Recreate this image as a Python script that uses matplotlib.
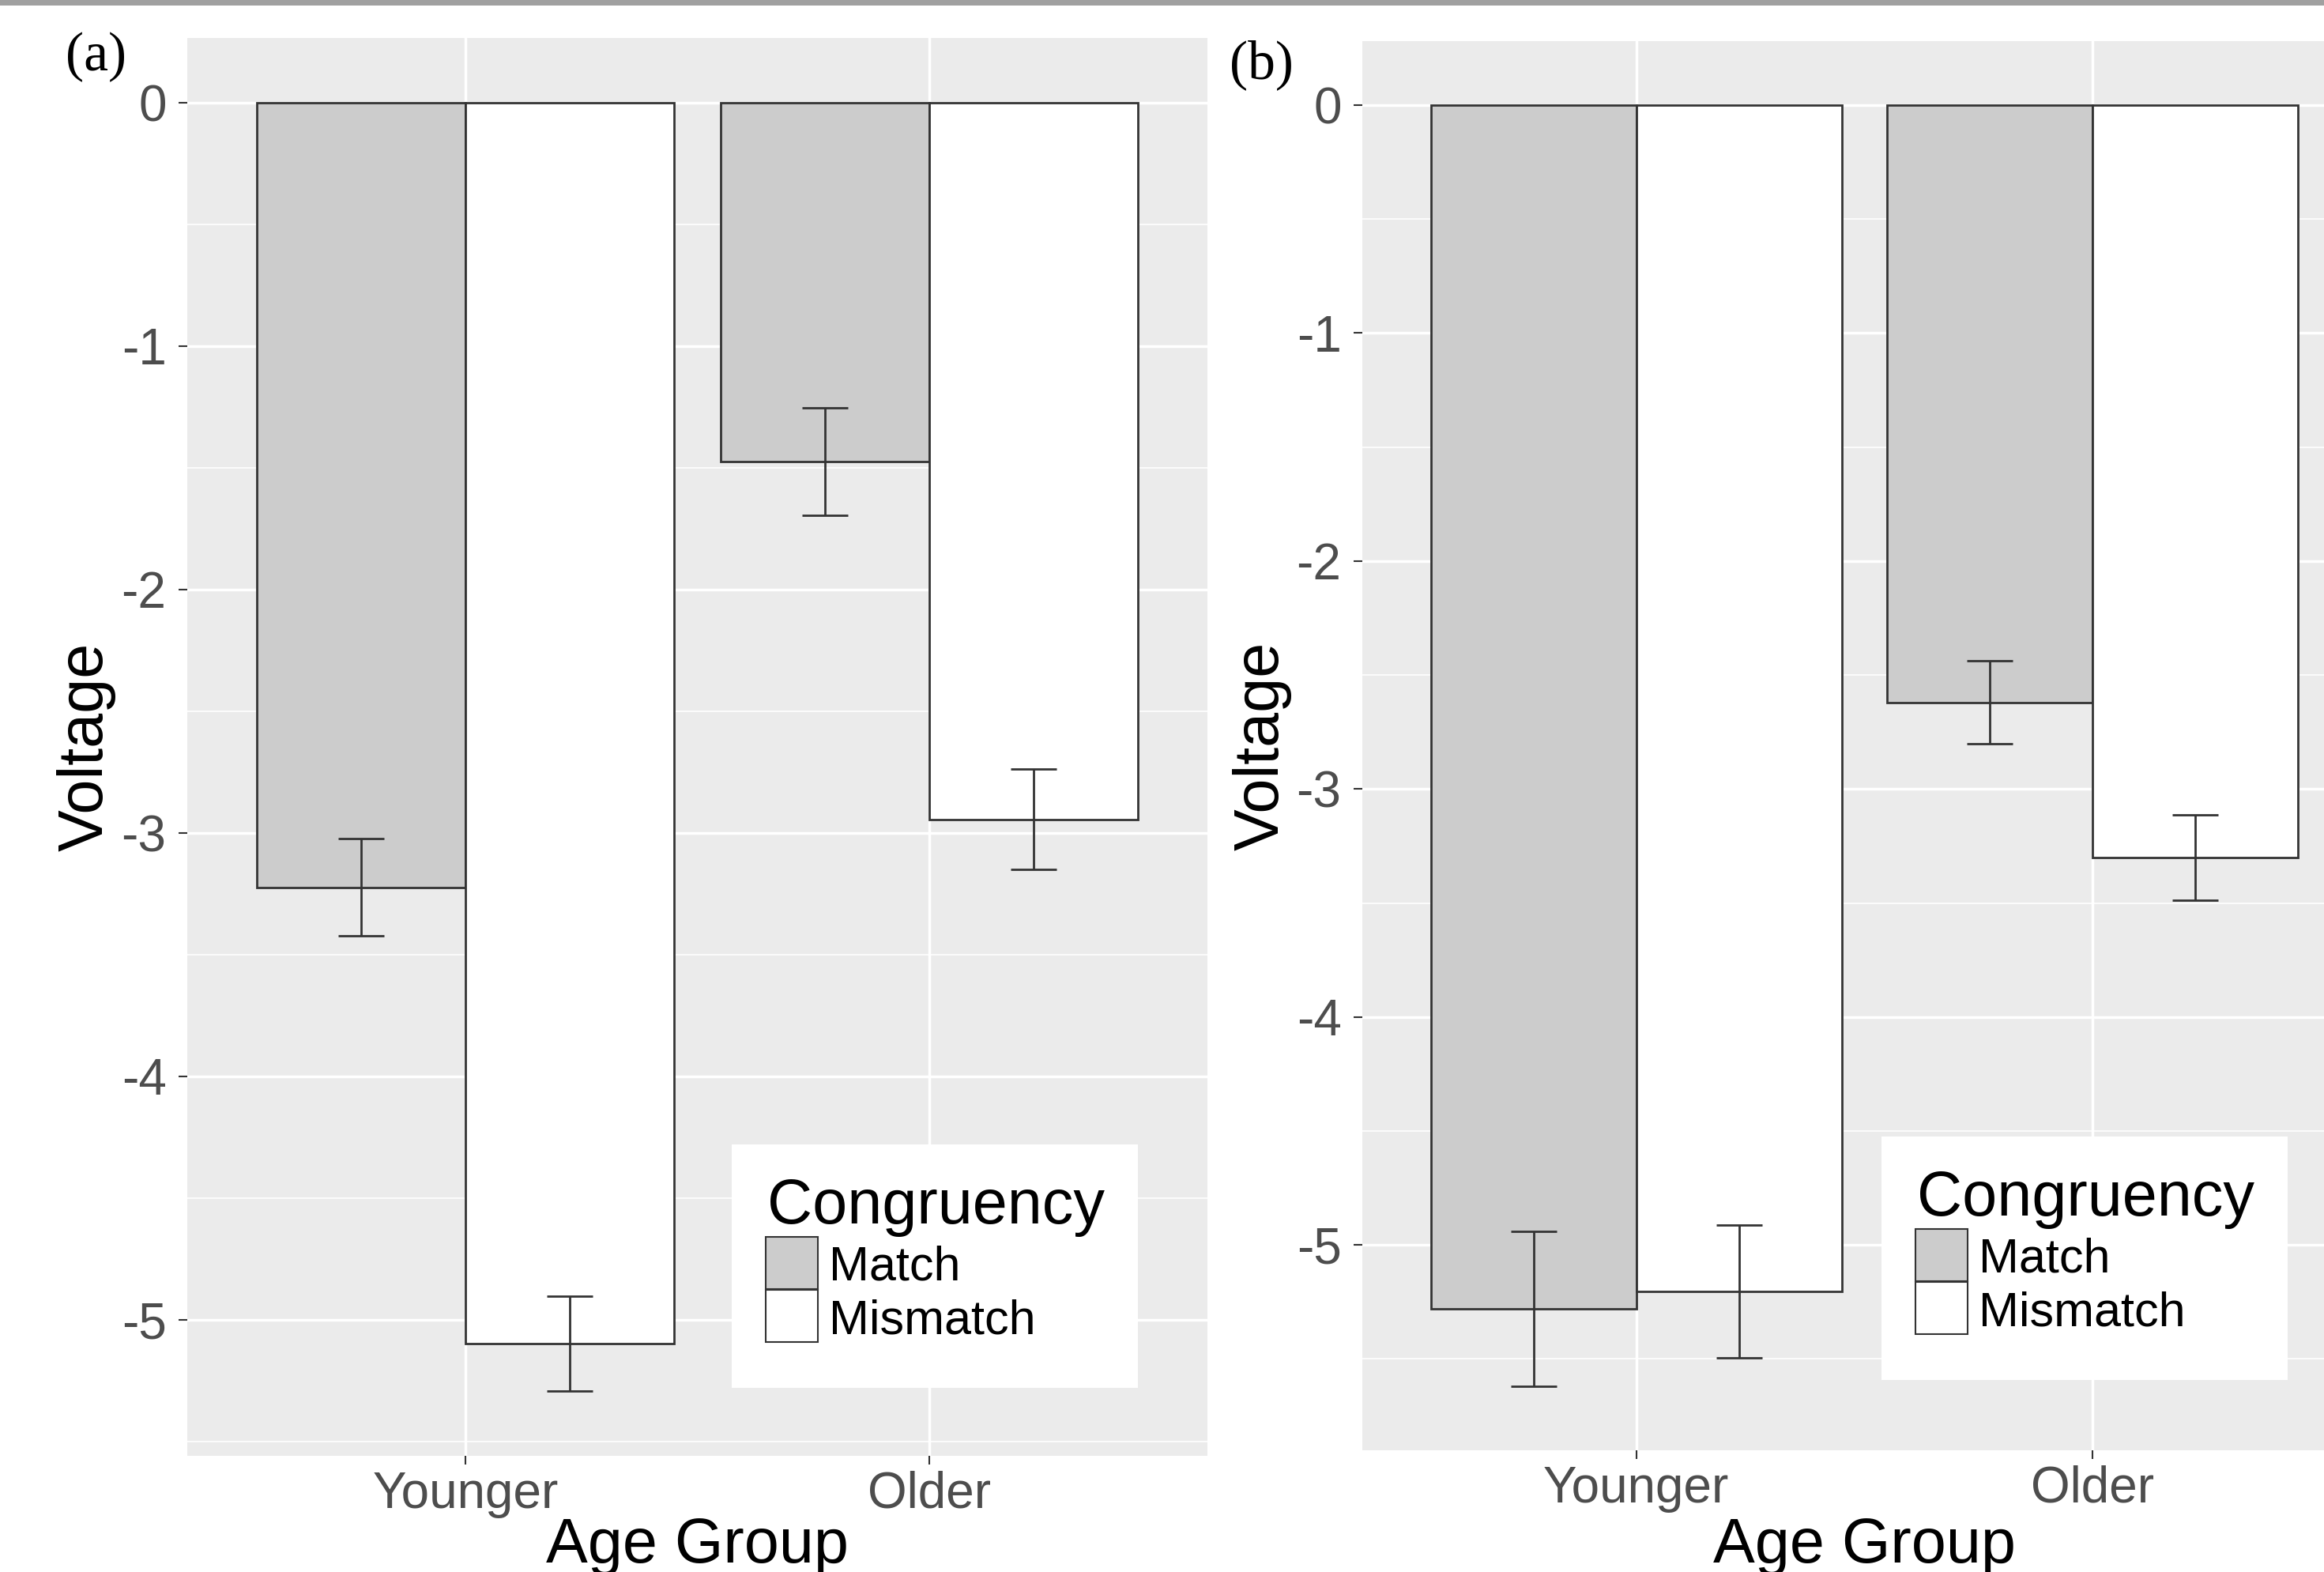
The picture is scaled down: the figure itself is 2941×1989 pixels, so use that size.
import numpy as np
import matplotlib
matplotlib.use("Agg")
from matplotlib import pyplot as plt
from matplotlib.patches import Rectangle
from matplotlib.ticker import MultipleLocator

plt.rcParams['font.family'] = ['Liberation Sans', 'DejaVu Sans']
plt.rcParams['axes.unicode_minus'] = False

# datos
groups = ["Younger", "Older"]
conditions = ["Match", "Mismatch"]
fills = ["#CCCCCC", "#FFFFFF"]

a_match = [-3.224, -1.475]
a_match_se = [0.199, 0.22]
a_mismatch = [-5.10, -2.945]
a_mismatch_se = [0.195, 0.205]

b_match = [-5.28, -2.62]
b_match_se = [0.34, 0.182]
b_mismatch = [-5.205, -3.30]
b_mismatch_se = [0.292, 0.188]

yticks = [0, -1, -2, -3, -4, -5]

W, H = 2941, 1989
EDGE = "#333333"


def fpos(x, y):
    return x / W, 1 - y / H


def panel(ax, means, ses):
    x = np.arange(len(groups))
    bw = 0.45
    lo = 0
    for i, (m, s) in enumerate(zip(means, ses)):
        xc = x + (i - 0.5) * bw
        m = np.array(m)
        s = np.array(s)
        ax.bar(xc, m, bw, color=fills[i], edgecolor=EDGE, linewidth=2.0, zorder=2)
        ax.vlines(xc, m - s, m + s, color=EDGE, linewidth=2.0, zorder=3)
        ax.hlines(m - s, xc - 0.05, xc + 0.05, color=EDGE, linewidth=2.0, zorder=3)
        ax.hlines(m + s, xc - 0.05, xc + 0.05, color=EDGE, linewidth=2.0, zorder=3)
        lo = min(lo, (m - s).min())
    pad = 0.05 * (0 - lo)
    ax.set_ylim(lo - pad, pad)
    ax.set_xlim(-0.6, len(groups) - 0.4)
    ax.set_xticks(x)
    ax.set_xticklabels(groups)
    ax.set_yticks(yticks)
    ax.set_yticklabels([str(t) for t in yticks])
    ax.yaxis.set_minor_locator(MultipleLocator(0.5))
    ax.set_facecolor("#EBEBEB")
    for sp in ax.spines.values():
        sp.set_visible(False)
    ax.set_axisbelow(True)
    ax.grid(which="major", color="white", linewidth=2.5)
    ax.grid(which="minor", axis="y", color="white", linewidth=1.2)
    ax.tick_params(which="major", length=8, width=1.5, color=EDGE,
                   labelsize=46, labelcolor="#4D4D4D")
    ax.tick_params(axis="y", pad=11)
    ax.tick_params(axis="x", pad=5.5)
    ax.tick_params(which="minor", length=0)
    ax.set_ylabel("Voltage", fontsize=57, color="black")
    ax.set_xlabel("Age Group", fontsize=57, color="black")


def leyenda(fig, x0, y0):
    fig.add_artist(Rectangle(fpos(x0, y0 + 308), 514 / W, 308 / H,
                             transform=fig.transFigure, facecolor="white",
                             edgecolor="none", zorder=5))
    fig.text(*fpos(x0 + 45, y0 + 100), "Congruency", fontsize=57,
             ha="left", va="baseline", zorder=6)
    for i, c in enumerate(conditions):
        top = y0 + 117 + i * 67
        fig.add_artist(Rectangle(fpos(x0 + 43, top + 66), 66 / W, 66 / H,
                                 transform=fig.transFigure, facecolor=fills[i],
                                 edgecolor=EDGE, linewidth=1.5, zorder=6))
        fig.text(*fpos(x0 + 123, y0 + 172 + i * 68), c, fontsize=44,
                 ha="left", va="baseline", zorder=6)


fig = plt.figure(figsize=(W / 100, H / 100), dpi=100)

ax1 = fig.add_axes([237 / W, (H - 1842) / H, 1291 / W, 1794 / H])
panel(ax1, [a_match, a_mismatch], [a_match_se, a_mismatch_se])
ax1.yaxis.set_label_coords(-0.07, 0.5)
ax1.xaxis.set_label_coords(0.5, -0.043)

ax2 = fig.add_axes([1724 / W, (H - 1835) / H, 1271 / W, 1783 / H])
panel(ax2, [b_match, b_mismatch], [b_match_se, b_mismatch_se])
ax2.yaxis.set_label_coords(-0.07, 0.5)
ax2.xaxis.set_label_coords(0.5, -0.047)

leyenda(fig, 926, 1448)
leyenda(fig, 2381, 1438)

fig.text(*fpos(121, 72), "(a)", fontsize=50, family="Liberation Serif",
         ha="center", va="center")
fig.text(*fpos(1596, 82), "(b)", fontsize=50, family="Liberation Serif",
         ha="center", va="center")

# borde gris de arriba
fig.add_artist(Rectangle((0, 1 - 7 / H), 1, 7 / H, transform=fig.transFigure,
                         facecolor="#A0A0A0", edgecolor="none"))

fig.savefig("out.png", dpi=100)
